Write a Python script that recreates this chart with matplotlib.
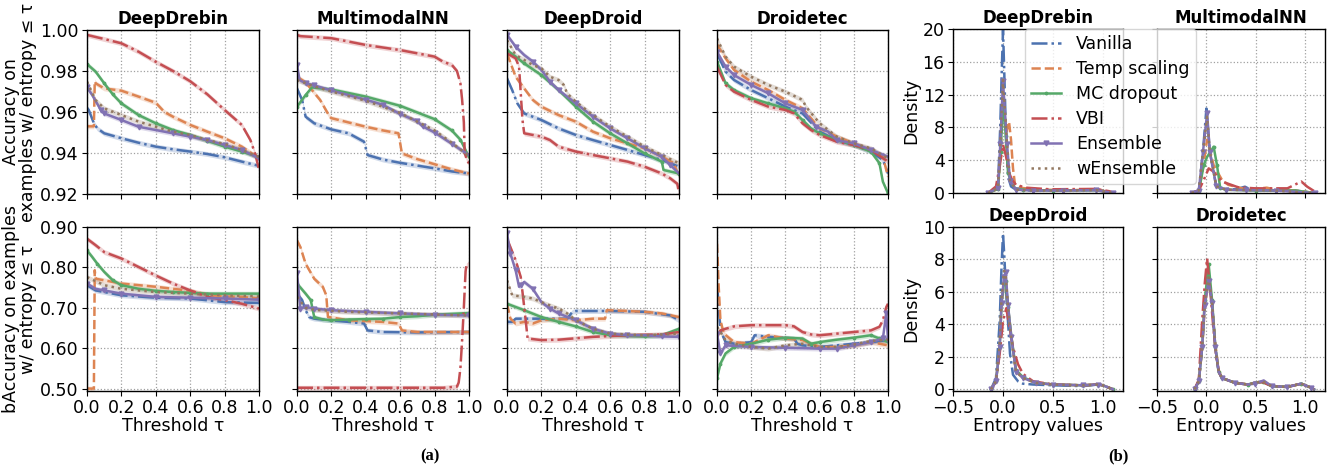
import numpy as np
import matplotlib.pyplot as plt

methods = ['Vanilla', 'Temp scaling', 'MC dropout', 'VBI', 'Ensemble', 'wEnsemble']
models = ['DeepDrebin', 'MultimodalNN', 'DeepDroid', 'Droidetec']

# ---- (a) top row: accuracy on examples with entropy <= tau ----
acc_deepdrebin = {
    'Vanilla': ([0, 0.01, 0.04, 0.06, 0.1, 0.2, 0.3, 0.4, 0.5, 0.6, 0.7, 0.8, 0.9, 1.0],
                [0.962, 0.961, 0.9545, 0.952, 0.9496, 0.9472, 0.945, 0.9431, 0.9418, 0.9407, 0.9395, 0.9379, 0.9358, 0.9337]),
    'Temp scaling': ([0, 0.04, 0.045, 0.05, 0.1, 0.2, 0.3, 0.35, 0.4, 0.45, 0.5, 0.6, 0.7, 0.8, 0.9, 1.0],
                     [0.953, 0.953, 0.975, 0.974, 0.9715, 0.9704, 0.9675, 0.966, 0.9645, 0.960, 0.9577, 0.9537, 0.9504, 0.9472, 0.9431, 0.9374]),
    'MC dropout': ([0, 0.05, 0.1, 0.15, 0.2, 0.3, 0.4, 0.5, 0.6, 0.7, 0.8, 0.9, 1.0],
                   [0.9834, 0.9797, 0.974, 0.9686, 0.9642, 0.9585, 0.9545, 0.9512, 0.9488, 0.946, 0.9431, 0.9407, 0.938]),
    'VBI': ([0, 0.1, 0.2, 0.3, 0.4, 0.5, 0.6, 0.7, 0.8, 0.9, 0.95, 0.98, 1.0],
            [0.9976, 0.9956, 0.9935, 0.9894, 0.9845, 0.980, 0.975, 0.9686, 0.961, 0.9537, 0.9463, 0.939, 0.9317]),
    'Ensemble': ([0, 0.03, 0.08, 0.1, 0.2, 0.3, 0.4, 0.5, 0.6, 0.7, 0.8, 0.9, 1.0],
                 [0.972, 0.9683, 0.961, 0.9593, 0.9561, 0.9528, 0.9512, 0.9496, 0.948, 0.9463, 0.9439, 0.9415, 0.9374]),
    'wEnsemble': ([0, 0.05, 0.1, 0.2, 0.3, 0.4, 0.5, 0.6, 0.7, 0.8, 0.9, 1.0],
                  [0.9748, 0.9658, 0.9618, 0.9585, 0.9553, 0.9528, 0.9504, 0.9488, 0.9463, 0.9444, 0.9415, 0.938]),
}
acc_multimodal = {
    'Vanilla': ([0, 0.03, 0.05, 0.1, 0.2, 0.3, 0.39, 0.41, 0.5, 0.6, 0.8, 0.9, 1.0],
                [0.9715, 0.9658, 0.9577, 0.9545, 0.9515, 0.9496, 0.9455, 0.939, 0.9368, 0.9352, 0.9325, 0.931, 0.930]),
    'Temp scaling': ([0, 0.05, 0.135, 0.19, 0.2, 0.4, 0.5, 0.59, 0.61, 0.7, 0.8, 0.9, 1.0],
                     [0.9772, 0.9745, 0.9658, 0.9577, 0.957, 0.9528, 0.951, 0.9496, 0.9398, 0.937, 0.9345, 0.932, 0.930]),
    'MC dropout': ([0, 0.05, 0.087, 0.2, 0.4, 0.6, 0.8, 0.9, 0.95, 1.0],
                   [0.9626, 0.9683, 0.972, 0.971, 0.9675, 0.963, 0.9565, 0.951, 0.9465, 0.938]),
    'VBI': ([0, 0.02, 0.2, 0.4, 0.6, 0.8, 0.85, 0.9, 0.93, 0.95, 0.96, 0.97, 0.975, 0.99, 1.0],
            [0.9976, 0.997, 0.996, 0.9927, 0.9902, 0.987, 0.9845, 0.983, 0.980, 0.974, 0.966, 0.955, 0.940, 0.936, 0.935]),
    'Ensemble': ([0, 0.015, 0.05, 0.1, 0.2, 0.4, 0.5, 0.6, 0.7, 0.73, 0.8, 0.9, 1.0],
                 [0.983, 0.9756, 0.974, 0.973, 0.9705, 0.966, 0.9635, 0.959, 0.9555, 0.953, 0.950, 0.9445, 0.939]),
    'wEnsemble': ([0, 0.1, 0.2, 0.4, 0.6, 0.8, 0.9, 1.0],
                  [0.9756, 0.9725, 0.970, 0.9655, 0.9595, 0.951, 0.945, 0.9385]),
}
acc_deepdroid = {
    'Vanilla': ([0, 0.03, 0.06, 0.1, 0.2, 0.3, 0.4, 0.5, 0.6, 0.7, 0.8, 0.9, 1.0],
                [0.9764, 0.9707, 0.9642, 0.9593, 0.9561, 0.952, 0.9488, 0.9463, 0.9439, 0.9415, 0.939, 0.9366, 0.9333]),
    'Temp scaling': ([0, 0.05, 0.1, 0.15, 0.2, 0.3, 0.4, 0.5, 0.6, 0.7, 0.8, 0.9, 0.97, 1.0],
                     [0.9886, 0.9772, 0.9715, 0.9659, 0.9626, 0.9585, 0.9553, 0.9504, 0.9472, 0.9447, 0.9423, 0.9382, 0.935, 0.9285]),
    'MC dropout': ([0, 0.05, 0.1, 0.2, 0.3, 0.4, 0.5, 0.6, 0.7, 0.8, 0.9, 0.91, 1.0],
                   [0.9902, 0.987, 0.9837, 0.978, 0.9707, 0.9626, 0.9553, 0.9496, 0.9447, 0.9398, 0.9358, 0.9317, 0.930]),
    'VBI': ([0, 0.05, 0.07, 0.09, 0.1, 0.2, 0.25, 0.3, 0.4, 0.5, 0.6, 0.7, 0.8, 0.9, 0.95, 0.99, 1.0],
            [0.9886, 0.9862, 0.9821, 0.9561, 0.9496, 0.948, 0.9463, 0.9431, 0.9407, 0.939, 0.9374, 0.9358, 0.9333, 0.930, 0.9276, 0.925, 0.9203]),
    'Ensemble': ([0, 0.05, 0.1, 0.15, 0.2, 0.25, 0.3, 0.4, 0.5, 0.6, 0.7, 0.8, 0.9, 0.95, 1.0],
                 [0.9976, 0.9919, 0.9878, 0.9846, 0.9805, 0.9748, 0.9707, 0.9642, 0.9577, 0.952, 0.9472, 0.9423, 0.9382, 0.9341, 0.930]),
    'wEnsemble': ([0, 0.05, 0.1, 0.15, 0.2, 0.25, 0.3, 0.33, 0.35, 0.4, 0.5, 0.6, 0.7, 0.8, 0.9, 1.0],
                  [0.9951, 0.9878, 0.9854, 0.9829, 0.9813, 0.9772, 0.9756, 0.9732, 0.969, 0.965, 0.9585, 0.9528, 0.948, 0.9431, 0.939, 0.935]),
}
acc_droidetec = {
    'Vanilla': ([0, 0.05, 0.1, 0.2, 0.3, 0.4, 0.5, 0.6, 0.7, 0.8, 0.9, 0.97, 1.0],
                [0.9886, 0.9797, 0.9756, 0.9707, 0.9667, 0.9626, 0.9593, 0.9504, 0.9463, 0.9439, 0.9407, 0.9366, 0.930]),
    'Temp scaling': ([0, 0.05, 0.1, 0.2, 0.3, 0.4, 0.5, 0.55, 0.6, 0.7, 0.8, 0.9, 0.97, 1.0],
                     [0.993, 0.9862, 0.9805, 0.9748, 0.9707, 0.9659, 0.9618, 0.9569, 0.952, 0.948, 0.9447, 0.9415, 0.9382, 0.9285]),
    'MC dropout': ([0, 0.05, 0.1, 0.2, 0.3, 0.4, 0.45, 0.5, 0.55, 0.6, 0.7, 0.8, 0.9, 0.95, 0.97, 1.0],
                   [0.9846, 0.974, 0.9707, 0.9667, 0.9642, 0.9618, 0.9602, 0.9561, 0.952, 0.9496, 0.9463, 0.9439, 0.9407, 0.935, 0.926, 0.9203]),
    'VBI': ([0, 0.05, 0.1, 0.2, 0.3, 0.4, 0.45, 0.5, 0.55, 0.6, 0.7, 0.8, 0.9, 1.0],
            [0.9821, 0.9732, 0.9699, 0.9659, 0.9626, 0.961, 0.9593, 0.9545, 0.9512, 0.9488, 0.9455, 0.9439, 0.9415, 0.9358]),
    'Ensemble': ([0, 0.05, 0.1, 0.2, 0.3, 0.4, 0.5, 0.58, 0.65, 0.7, 0.8, 0.9, 1.0],
                 [0.9894, 0.9821, 0.978, 0.9732, 0.9691, 0.9642, 0.961, 0.9528, 0.9504, 0.9463, 0.9447, 0.9415, 0.9382]),
    'wEnsemble': ([0, 0.05, 0.1, 0.2, 0.3, 0.4, 0.5, 0.52, 0.6, 0.7, 0.8, 0.9, 0.95, 1.0],
                  [0.9959, 0.987, 0.9821, 0.9772, 0.9732, 0.9699, 0.9659, 0.9626, 0.9545, 0.948, 0.9447, 0.9423, 0.9398, 0.9374]),
}

# ---- (a) bottom row: balanced accuracy ----
bacc_deepdrebin = {
    'Vanilla': ([0, 0.05, 0.1, 0.2, 0.4, 0.6, 0.8, 1.0],
                [0.756, 0.743, 0.739, 0.731, 0.725, 0.723, 0.714, 0.712]),
    'Temp scaling': ([0, 0.04, 0.045, 0.05, 0.1, 0.2, 0.3, 0.4, 0.5, 0.6, 0.7, 0.8, 0.9, 1.0],
                     [0.50, 0.50, 0.793, 0.772, 0.768, 0.760, 0.756, 0.752, 0.747, 0.742, 0.733, 0.728, 0.727, 0.723]),
    'MC dropout': ([0, 0.03, 0.06, 0.1, 0.15, 0.2, 0.3, 0.4, 0.5, 0.6, 0.7, 1.0],
                   [0.842, 0.826, 0.809, 0.789, 0.768, 0.756, 0.747, 0.742, 0.739, 0.737, 0.735, 0.735]),
    'VBI': ([0, 0.05, 0.1, 0.2, 0.3, 0.4, 0.5, 0.6, 0.7, 0.8, 0.9, 1.0],
            [0.871, 0.855, 0.838, 0.822, 0.801, 0.780, 0.760, 0.743, 0.727, 0.719, 0.710, 0.698]),
    'Ensemble': ([0, 0.05, 0.1, 0.2, 0.4, 0.6, 0.8, 1.0],
                 [0.760, 0.747, 0.743, 0.735, 0.727, 0.725, 0.723, 0.720]),
    'wEnsemble': ([0, 0.1, 0.2, 0.4, 0.6, 0.8, 1.0],
                  [0.776, 0.756, 0.747, 0.739, 0.735, 0.731, 0.728]),
}
bacc_multimodal = {
    'Vanilla': ([0, 0.03, 0.05, 0.07, 0.1, 0.2, 0.3, 0.39, 0.41, 0.5, 0.7, 1.0],
                [0.735, 0.719, 0.694, 0.677, 0.673, 0.669, 0.665, 0.661, 0.644, 0.640, 0.639, 0.640]),
    'Temp scaling': ([0, 0.02, 0.05, 0.1, 0.15, 0.17, 0.18, 0.2, 0.3, 0.5, 0.59, 0.61, 0.7, 1.0],
                     [0.867, 0.85, 0.809, 0.772, 0.752, 0.731, 0.677, 0.676, 0.669, 0.665, 0.661, 0.644, 0.640, 0.640]),
    'MC dropout': ([0, 0.05, 0.08, 0.1, 0.15, 0.2, 0.3, 0.4, 0.5, 0.6, 0.7, 0.8, 1.0],
                   [0.760, 0.735, 0.719, 0.677, 0.671, 0.669, 0.671, 0.672, 0.673, 0.677, 0.679, 0.683, 0.687]),
    'VBI': ([0, 0.85, 0.93, 0.94, 0.95, 0.96, 0.97, 0.98, 0.985, 1.0],
            [0.502, 0.502, 0.505, 0.515, 0.55, 0.62, 0.70, 0.79, 0.805, 0.81]),
    'Ensemble': ([0, 0.02, 0.05, 0.1, 0.2, 0.4, 0.6, 0.8, 1.0],
                 [0.785, 0.698, 0.702, 0.698, 0.694, 0.690, 0.686, 0.683, 0.681]),
    'wEnsemble': ([0, 0.05, 0.1, 0.3, 0.6, 1.0],
                  [0.727, 0.70, 0.695, 0.690, 0.686, 0.681]),
}
bacc_deepdroid = {
    'Vanilla': ([0, 0.03, 0.05, 0.35, 0.38, 0.4, 0.6, 0.8, 0.95, 1.0],
                [0.665, 0.665, 0.673, 0.673, 0.690, 0.692, 0.692, 0.690, 0.681, 0.669]),
    'Temp scaling': ([0, 0.02, 0.05, 0.1, 0.15, 0.2, 0.3, 0.4, 0.5, 0.57, 0.58, 0.7, 0.8, 0.9, 1.0],
                     [0.710, 0.673, 0.661, 0.665, 0.661, 0.669, 0.673, 0.669, 0.673, 0.673, 0.694, 0.692, 0.690, 0.686, 0.677]),
    'MC dropout': ([0, 0.1, 0.2, 0.3, 0.4, 0.5, 0.6, 0.8, 0.9, 1.0],
                   [0.710, 0.694, 0.677, 0.665, 0.654, 0.640, 0.632, 0.629, 0.632, 0.648]),
    'VBI': ([0, 0.05, 0.08, 0.1, 0.12, 0.2, 0.3, 0.5, 0.7, 0.9, 1.0],
            [0.871, 0.818, 0.776, 0.702, 0.624, 0.620, 0.621, 0.628, 0.632, 0.634, 0.640]),
    'Ensemble': ([0, 0.02, 0.05, 0.07, 0.08, 0.1, 0.15, 0.2, 0.25, 0.3, 0.4, 0.5, 0.6, 0.7, 0.8, 0.9, 1.0],
                 [0.884, 0.834, 0.793, 0.752, 0.756, 0.764, 0.747, 0.714, 0.698, 0.686, 0.669, 0.648, 0.636, 0.632, 0.632, 0.629, 0.628]),
    'wEnsemble': ([0, 0.03, 0.1, 0.15, 0.2, 0.3, 0.35, 0.4, 0.5, 0.6, 0.8, 1.0],
                  [0.768, 0.731, 0.727, 0.723, 0.714, 0.698, 0.686, 0.669, 0.648, 0.636, 0.632, 0.636]),
}
bacc_droidetec = {
    'Vanilla': ([0, 0.01, 0.02, 0.05, 0.1, 0.2, 0.22, 0.3, 0.45, 0.47, 0.5, 0.6, 0.7, 0.8, 0.9, 1.0],
                [0.760, 0.702, 0.644, 0.615, 0.611, 0.615, 0.632, 0.628, 0.624, 0.611, 0.607, 0.603, 0.607, 0.611, 0.615, 0.620]),
    'Temp scaling': ([0, 0.01, 0.02, 0.04, 0.1, 0.2, 0.3, 0.4, 0.5, 0.6, 0.7, 0.8, 0.9, 1.0],
                     [0.859, 0.752, 0.669, 0.636, 0.615, 0.611, 0.632, 0.624, 0.620, 0.603, 0.603, 0.607, 0.615, 0.607]),
    'MC dropout': ([0, 0.02, 0.05, 0.1, 0.2, 0.3, 0.4, 0.5, 0.55, 0.6, 0.7, 0.8, 0.9, 0.95, 1.0],
                   [0.525, 0.562, 0.587, 0.603, 0.611, 0.621, 0.626, 0.624, 0.611, 0.615, 0.621, 0.626, 0.632, 0.624, 0.615]),
    'VBI': ([0, 0.02, 0.05, 0.1, 0.2, 0.4, 0.45, 0.5, 0.55, 0.6, 0.7, 0.8, 0.9, 0.95, 0.97, 0.99, 1.0],
            [0.628, 0.644, 0.648, 0.654, 0.657, 0.657, 0.654, 0.640, 0.634, 0.632, 0.636, 0.640, 0.644, 0.653, 0.669, 0.702, 0.710]),
    'Ensemble': ([0, 0.02, 0.05, 0.2, 0.4, 0.6, 0.7, 0.8, 0.9, 0.97, 0.99, 1.0],
                 [0.636, 0.587, 0.607, 0.603, 0.601, 0.599, 0.599, 0.607, 0.615, 0.624, 0.686, 0.620]),
    'wEnsemble': ([0, 0.05, 0.1, 0.2, 0.3, 0.4, 0.5, 0.6, 0.7, 0.8, 0.9, 1.0],
                  [0.653, 0.620, 0.611, 0.603, 0.599, 0.607, 0.611, 0.603, 0.603, 0.609, 0.618, 0.621]),
}

# ---- (b) entropy density ----
dens_deepdrebin = {
    'Vanilla': ([-0.15, -0.05, -0.027, -0.012, 0, 0.012, 0.027, 0.05, 0.08, 0.13, 0.3, 0.6, 0.93, 1.0, 1.1],
                [0, 0.6, 8.3, 15, 19.9, 15, 8.3, 2, 0.8, 0.4, 0.3, 0.3, 0.35, 0.3, 0]),
    'Temp scaling': ([-0.15, -0.05, -0.027, 0, 0.02, 0.035, 0.06, 0.08, 0.1, 0.12, 0.2, 0.4, 0.7, 0.93, 1.1],
                     [0, 0.5, 4, 11.5, 9, 7.5, 8.7, 6.5, 3, 1, 0.6, 0.4, 0.35, 0.45, 0]),
    'MC dropout': ([-0.15, -0.05, -0.025, 0, 0.007, 0.027, 0.05, 0.08, 0.12, 0.2, 0.5, 0.93, 1.1],
                   [0, 0.5, 5, 10.5, 10.9, 7, 2.5, 1.3, 0.6, 0.4, 0.3, 0.35, 0]),
    'VBI': ([-0.15, -0.07, -0.03, 0, 0.03, 0.06, 0.09, 0.13, 0.23, 0.47, 0.93, 1.07, 1.1],
            [0, 0.8, 3.5, 5.9, 4.5, 2.5, 1.6, 1.0, 0.65, 0.45, 0.5, 0.2, 0]),
    'Ensemble': ([-0.15, -0.05, -0.027, 0, 0.04, 0.07, 0.13, 0.3, 0.6, 0.93, 1.1],
                 [0, 0.6, 6, 13.6, 6, 1.5, 0.4, 0.3, 0.3, 0.35, 0]),
    'wEnsemble': ([-0.15, -0.05, -0.027, 0, 0.04, 0.07, 0.13, 0.3, 0.6, 0.93, 1.1],
                  [0, 0.6, 6, 13.8, 6, 1.5, 0.4, 0.3, 0.3, 0.35, 0]),
}
dens_multimodal = {
    'Vanilla': ([-0.15, -0.077, -0.035, 0, 0.035, 0.1, 0.2, 0.3, 0.39, 0.45, 0.6, 0.9, 1.1],
                [0, 0.3, 5, 10.3, 5, 0.8, 0.5, 0.45, 0.77, 0.4, 0.3, 0.3, 0]),
    'Temp scaling': ([-0.15, -0.077, -0.035, 0.007, 0.04, 0.073, 0.157, 0.22, 0.36, 0.5, 0.61, 0.7, 0.9, 1.1],
                     [0, 0.3, 3, 6.5, 5, 3.4, 1.6, 1, 0.57, 0.5, 0.65, 0.4, 0.3, 0]),
    'MC dropout': ([-0.15, -0.077, -0.027, 0.007, 0.04, 0.073, 0.107, 0.14, 0.2, 0.5, 0.9, 1.1],
                   [0, 0.2, 3.4, 4.4, 5, 5.65, 3.4, 0.6, 0.4, 0.3, 0.3, 0]),
    'VBI': ([-0.15, -0.077, -0.03, 0.023, 0.073, 0.157, 0.32, 0.49, 0.82, 0.96, 1.02, 1.12],
            [0, 0.3, 1.5, 3.0, 2.6, 1.4, 0.7, 0.57, 0.57, 1.4, 0.77, 0]),
    'Ensemble': ([-0.15, -0.077, -0.035, 0.007, 0.035, 0.1, 0.2, 0.4, 0.7, 1.1],
                 [0, 0.3, 5, 9.7, 5, 0.8, 0.4, 0.35, 0.3, 0]),
    'wEnsemble': ([-0.15, -0.077, -0.035, 0.007, 0.035, 0.1, 0.2, 0.4, 0.7, 1.1],
                  [0, 0.3, 5, 9.3, 5, 0.8, 0.4, 0.35, 0.3, 0]),
}
dens_deepdroid = {
    'Vanilla': ([-0.12, -0.07, -0.033, -0.015, 0, 0.015, 0.03, 0.05, 0.07, 0.1, 0.15, 0.2, 0.3, 0.5, 0.8, 0.95, 1.0, 1.1],
                [0, 0.7, 4.2, 7.5, 9.6, 8, 6, 4.2, 2.2, 0.9, 0.5, 0.35, 0.3, 0.25, 0.2, 0.3, 0.25, 0]),
    'Temp scaling': ([-0.12, -0.07, -0.033, -0.015, 0.01, 0.027, 0.05, 0.083, 0.13, 0.2, 0.33, 0.5, 0.8, 0.95, 1.0, 1.1],
                     [0, 0.5, 2.6, 5.3, 6.5, 6.5, 5, 3.2, 1.1, 0.7, 0.4, 0.3, 0.25, 0.3, 0.25, 0]),
    'MC dropout': ([-0.12, -0.07, -0.033, -0.015, 0.01, 0.027, 0.05, 0.083, 0.13, 0.2, 0.33, 0.5, 0.8, 0.95, 1.0, 1.1],
                   [0, 0.5, 2.6, 5.3, 6.6, 6.7, 5.1, 3.3, 1.2, 0.75, 0.4, 0.3, 0.25, 0.3, 0.25, 0]),
    'VBI': ([-0.12, -0.07, -0.033, 0, 0.033, 0.06, 0.1, 0.15, 0.2, 0.3, 0.5, 0.8, 0.95, 1.0, 1.1],
            [0, 0.5, 2.2, 4.2, 5.0, 4.0, 2.6, 1.55, 0.95, 0.5, 0.3, 0.25, 0.3, 0.25, 0]),
    'Ensemble': ([-0.12, -0.07, -0.033, -0.015, 0.01, 0.027, 0.05, 0.083, 0.13, 0.2, 0.33, 0.5, 0.8, 0.95, 1.0, 1.1],
                 [0, 0.5, 2.6, 5.3, 6.9, 7.2, 5.2, 3.2, 1.1, 0.7, 0.4, 0.3, 0.25, 0.3, 0.25, 0]),
    'wEnsemble': ([-0.12, -0.07, -0.033, -0.015, 0.01, 0.027, 0.05, 0.083, 0.13, 0.2, 0.33, 0.5, 0.8, 0.95, 1.0, 1.1],
                  [0, 0.5, 2.8, 5.6, 7.3, 7.0, 5.0, 3.1, 1.1, 0.7, 0.4, 0.3, 0.25, 0.3, 0.25, 0]),
}
dens_droidetec = {
    'Vanilla': ([-0.12, -0.077, -0.043, -0.017, 0.023, 0.057, 0.09, 0.123, 0.157, 0.29, 0.42, 0.49, 0.57, 0.66, 0.82, 0.96, 1.06, 1.09],
                [0, 0.5, 2.6, 5.3, 6.8, 5.3, 2.6, 1.1, 0.7, 0.4, 0.3, 0.4, 0.5, 0.2, 0.15, 0.35, 0.1, 0]),
    'Temp scaling': ([-0.12, -0.077, -0.043, -0.017, 0.023, 0.057, 0.09, 0.123, 0.157, 0.29, 0.42, 0.49, 0.57, 0.66, 0.82, 0.96, 1.06, 1.09],
                     [0, 0.5, 2.5, 5.1, 6.7, 5.5, 2.8, 1.2, 0.7, 0.4, 0.3, 0.4, 0.5, 0.2, 0.15, 0.35, 0.1, 0]),
    'MC dropout': ([-0.12, -0.077, -0.043, -0.017, 0.023, 0.057, 0.09, 0.123, 0.157, 0.29, 0.42, 0.49, 0.57, 0.66, 0.82, 0.96, 1.06, 1.09],
                   [0, 0.5, 2.6, 5.5, 7.7, 5.5, 2.6, 1.1, 0.7, 0.4, 0.3, 0.4, 0.45, 0.2, 0.15, 0.35, 0.1, 0]),
    'VBI': ([-0.12, -0.077, -0.043, -0.017, 0.007, 0.04, 0.07, 0.1, 0.13, 0.157, 0.29, 0.42, 0.49, 0.57, 0.66, 0.82, 0.96, 1.06, 1.09],
            [0, 0.6, 4.2, 6.5, 8.07, 6.0, 3.8, 2.0, 1.0, 0.7, 0.4, 0.3, 0.4, 0.45, 0.2, 0.15, 0.35, 0.1, 0]),
    'Ensemble': ([-0.12, -0.077, -0.043, -0.017, 0.023, 0.057, 0.09, 0.123, 0.157, 0.29, 0.42, 0.49, 0.58, 0.66, 0.82, 0.96, 1.06, 1.09],
                 [0, 0.5, 2.6, 5.2, 6.7, 5.3, 2.6, 1.1, 0.7, 0.4, 0.3, 0.35, 0.55, 0.2, 0.15, 0.35, 0.1, 0]),
    'wEnsemble': ([-0.12, -0.077, -0.043, -0.017, 0.023, 0.057, 0.09, 0.123, 0.157, 0.29, 0.42, 0.49, 0.57, 0.66, 0.82, 0.96, 1.06, 1.09],
                  [0, 0.5, 2.7, 5.4, 6.9, 5.3, 2.6, 1.1, 0.7, 0.4, 0.3, 0.4, 0.5, 0.2, 0.15, 0.35, 0.1, 0]),
}

colors = {'Vanilla': '#4C72B0', 'Temp scaling': '#DD8452', 'MC dropout': '#55A868',
          'VBI': '#C44E52', 'Ensemble': '#8172B3', 'wEnsemble': '#937860'}
styles = {'Vanilla': ('-.', None), 'Temp scaling': ('--', None), 'MC dropout': ('-', '.'),
          'VBI': ('-.', None), 'Ensemble': ('-', 'v'), 'wEnsemble': (':', None)}

plt.rcParams['font.family'] = 'DejaVu Sans'
plt.rcParams['font.size'] = 12.5

W, H = 1340, 469
fig = plt.figure(figsize=(W / 100, H / 100), dpi=100)


def add_ax(l, t, r, b):
    return fig.add_axes([l / W, 1 - b / H, (r - l) / W, (b - t) / H])


def style_ax(ax):
    ax.grid(True, linestyle=':', color='#a0a0a0', lw=0.9)
    ax.set_axisbelow(True)
    for s in ax.spines.values():
        s.set_color('black')
        s.set_linewidth(1.0)
    ax.tick_params(labelsize=12.5, length=3.5, width=0.8, pad=2.5)


def draw(ax, data, band):
    for m in methods:
        x, y = np.array(data[m][0]), np.array(data[m][1])
        ls, mk = styles[m]
        if band:
            ax.fill_between(x, y - band, y + band, color=colors[m], alpha=0.25, lw=0)
        ax.plot(x, y, ls=ls, marker=mk, markersize=3.5, markevery=0.08,
                color=colors[m], lw=1.8, label=m)


acc_sets = [acc_deepdrebin, acc_multimodal, acc_deepdroid, acc_droidetec]
bacc_sets = [bacc_deepdrebin, bacc_multimodal, bacc_deepdroid, bacc_droidetec]
cols_a = [(87, 259), (297, 469), (507, 679), (717, 888)]

for i, (l, r) in enumerate(cols_a):
    ax = add_ax(l, 30, r, 194)
    draw(ax, acc_sets[i], 0.0012)
    ax.set_xlim(0, 1)
    ax.set_ylim(0.92, 1.0)
    ax.set_yticks([0.92, 0.94, 0.96, 0.98, 1.00])
    ax.set_xticks([0, 0.2, 0.4, 0.6, 0.8, 1.0])
    ax.set_xticklabels([])
    ax.set_title(models[i], fontsize=12, fontweight='bold', pad=4)
    style_ax(ax)
    if i == 0:
        ax.set_yticklabels(['0.92', '0.94', '0.96', '0.98', '1.00'])
        ax.set_ylabel('Accuracy on\nexamples w/ entropy ≤ τ', fontsize=12.5,
                      linespacing=0.95, labelpad=2)
    else:
        ax.set_yticklabels([])

    ax = add_ax(l, 227, r, 391)
    draw(ax, bacc_sets[i], 0.006)
    ax.set_xlim(0, 1)
    ax.set_ylim(0.494, 0.90)
    ax.set_yticks([0.5, 0.6, 0.7, 0.8, 0.9])
    ax.set_xticks([0, 0.2, 0.4, 0.6, 0.8, 1.0])
    ax.set_xticklabels(['0.0', '0.2', '0.4', '0.6', '0.8', '1.0'])
    ax.set_xlabel('Threshold τ', fontsize=12.5, labelpad=0)
    style_ax(ax)
    if i == 0:
        ax.set_yticklabels(['0.50', '0.60', '0.70', '0.80', '0.90'])
        ax.set_ylabel('bAccuracy on examples\nw/ entropy ≤ τ', fontsize=12.5,
                      linespacing=0.95, labelpad=2)
    else:
        ax.set_yticklabels([])

dens_sets = [dens_deepdrebin, dens_multimodal, dens_deepdroid, dens_droidetec]
boxes_b = [(953, 29, 1123, 193), (1157, 29, 1325, 193), (953, 227, 1123, 391), (1157, 227, 1325, 391)]
for i, (l, t, r, b) in enumerate(boxes_b):
    ax = add_ax(l, t, r, b)
    draw(ax, dens_sets[i], 0)
    ax.set_xlim(-0.5, 1.2)
    ax.set_xticks([-0.5, 0.0, 0.5, 1.0])
    if i < 2:
        ax.set_ylim(0, 20)
        ax.set_yticks([0, 4, 8, 12, 16, 20])
        ax.set_xticklabels([])
    else:
        ax.set_ylim(-0.1, 10)
        ax.set_yticks([0, 2, 4, 6, 8, 10])
        ax.set_xticklabels(['−0.5', '0.0', '0.5', '1.0'])
        ax.set_xlabel('Entropy values', fontsize=12.5, labelpad=0)
    ax.set_title(models[i], fontsize=12, fontweight='bold', pad=4)
    style_ax(ax)
    if i % 2 == 0:
        ax.set_ylabel('Density', fontsize=12.5, labelpad=2)
    else:
        ax.set_yticklabels([])
    if i == 0:
        handles, labels = ax.get_legend_handles_labels()

fig.legend(handles, labels, loc='upper left', bbox_to_anchor=(1025 / W, 1 - 29 / H),
           borderaxespad=0, fontsize=12.5, frameon=True, labelspacing=0.4,
           borderpad=0.35, handlelength=1.7, handletextpad=0.9)

fig.text(430 / W, 1 - 456 / H, '(a)', ha='center', va='center',
         fontsize=12, fontweight='bold', family='Liberation Serif')
fig.text(1118 / W, 1 - 456 / H, '(b)', ha='center', va='center',
         fontsize=12, fontweight='bold', family='Liberation Serif')

fig.savefig('out.png', dpi=100)
